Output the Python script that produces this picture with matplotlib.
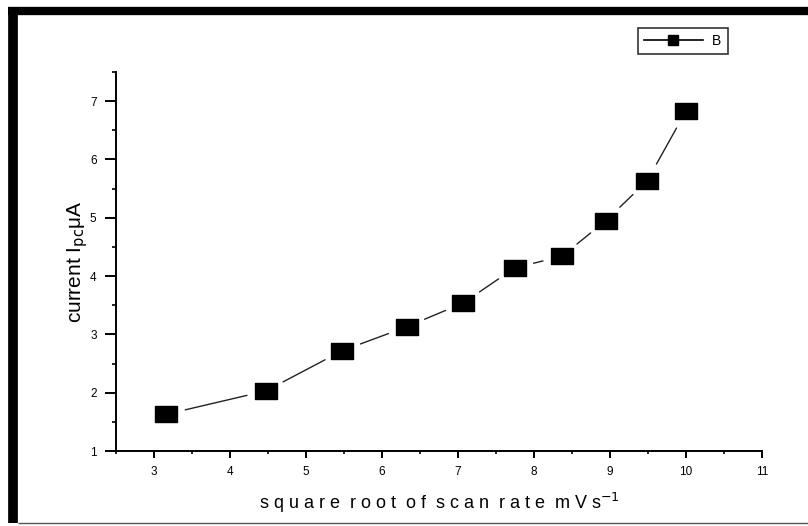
import matplotlib
matplotlib.use("Agg")
import matplotlib.pyplot as plt
from matplotlib.lines import Line2D
from matplotlib.path import Path
import numpy as np

# scan rates (mV/s) and peak cathodic current (uA)
scan_rate = [10, 20, 30, 40, 50, 60, 70, 80, 90, 100]
current = [1.63, 2.03, 2.72, 3.13, 3.54, 4.14, 4.34, 4.95, 5.63, 6.83]
sqrt_rate = np.sqrt(scan_rate)

xticks = [3, 4, 5, 6, 7, 8, 9, 10, 11]
yticks = [1, 2, 3, 4, 5, 6, 7]

plt.rcParams['font.family'] = ['Liberation Sans', 'DejaVu Sans']

fig = plt.figure(figsize=(8.08, 5.26), dpi=100)
ax = fig.add_axes([116/808, 1-451/526, (762-116)/808, (451-72)/526])

# wide rectangle marker like the origin plot
rect = Path([(-1.35, -1), (1.35, -1), (1.35, 1), (-1.35, 1), (-1.35, -1)],
            [Path.MOVETO, Path.LINETO, Path.LINETO, Path.LINETO, Path.CLOSEPOLY])

# connecting segments, with a gap next to each symbol
for i in range(len(sqrt_rate) - 1):
    ax.annotate('', xy=(sqrt_rate[i+1], current[i+1]), xytext=(sqrt_rate[i], current[i]),
                arrowprops=dict(arrowstyle='-', color='#222222', lw=1.0,
                                shrinkA=14, shrinkB=14))
ax.plot(sqrt_rate, current, linestyle='none', marker=rect, markersize=16,
        color='black', markeredgecolor='black')

ax.set_xlim(2.5, 11)
ax.set_ylim(1, 7.5)
ax.set_xticks(xticks)
ax.set_yticks(yticks)
ax.set_xticks(np.arange(2.5, 11.01, 0.5), minor=True)
ax.set_yticks(np.arange(1.5, 7.51, 0.5), minor=True)

for s in ['top', 'right']:
    ax.spines[s].set_visible(False)
for s in ['left', 'bottom']:
    ax.spines[s].set_linewidth(1.4)

ax.tick_params(axis='x', which='major', direction='out', length=5, width=1.4, labelsize=8.5, pad=6)
ax.tick_params(axis='x', which='minor', direction='out', length=2.5, width=1.2)
ax.tick_params(axis='y', which='major', direction='out', length=8, width=1.4, labelsize=8.5, pad=6)
ax.tick_params(axis='y', which='minor', direction='out', length=3, width=1.2)

ax.set_xlabel('s q u a r e  r o o t  o f  s c a n  r a t e  m V s$^{-1}$', fontsize=13, labelpad=9)
ax.set_ylabel(r'current I$_{\rm pc}$μA', fontsize=15, labelpad=0)

handle = Line2D([], [], color='black', lw=1.2, marker='s', markersize=7)
leg = fig.legend([handle], ['B'], loc='upper left', bbox_to_anchor=(631/808, 1-21/526),
                 fontsize=10, frameon=True, fancybox=False, edgecolor='black',
                 handlelength=4.2, borderpad=0.45, handletextpad=0.7)
leg.get_frame().set_linewidth(1.2)

# black frame of the screenshot
fig.add_artist(Line2D([8/808, 1], [1-11/526, 1-11/526], color='black', lw=6,
                      solid_capstyle='butt', transform=fig.transFigure))
fig.add_artist(Line2D([13/808, 13/808], [1-7/526, 1-523/526], color='black', lw=7,
                      solid_capstyle='butt', transform=fig.transFigure))
fig.add_artist(Line2D([18/808, 1], [1-523/526, 1-523/526], color='#555555', lw=1,
                      solid_capstyle='butt', transform=fig.transFigure))

fig.savefig('out.png', dpi=100)
